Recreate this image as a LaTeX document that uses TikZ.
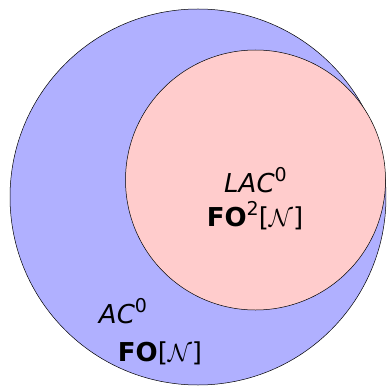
\documentclass[tikz,border=0pt]{standalone}
\usepackage{fontspec}
\setmainfont{DejaVu Sans}
\definecolor{outerblue}{RGB}{176,176,255}
\definecolor{innerpink}{RGB}{255,204,204}
\newcommand{\supnum}[1]{\raisebox{0.75ex}{\fontsize{19}{19}\selectfont #1}}
\tikzset{
  setcircle/.style={draw=black, line width=0.5pt},
  lbl/.style={font=\fontsize{26}{34}\selectfont, align=center, inner sep=0pt}
}
\begin{document}
\begin{tikzpicture}[x=1pt,y=-1pt]
\useasboundingbox (0,0) rectangle (386,387);
\clip (0,0) rectangle (386,387);
\node[setcircle, circle, fill=outerblue, minimum size=376pt, inner sep=0pt] (ac) at (198,197) {};
\node[setcircle, circle, fill=innerpink, minimum size=260pt, inner sep=0pt] (lac) at (255.5,180) {};
\node[lbl, anchor=base] (lacname) at (255.5,192) {\textit{LAC}\supnum{0}};
\node[lbl, anchor=base] (lacfo) at (255,226) {\textbf{FO}\supnum{2}[$\mathcal{N}$]};
\node[lbl, anchor=base] (acname) at (123,323) {\textit{AC}\supnum{0}};
\node[lbl, anchor=base] (acfo) at (160,361) {\textbf{FO}[$\mathcal{N}$]};
\end{tikzpicture}
\end{document}
